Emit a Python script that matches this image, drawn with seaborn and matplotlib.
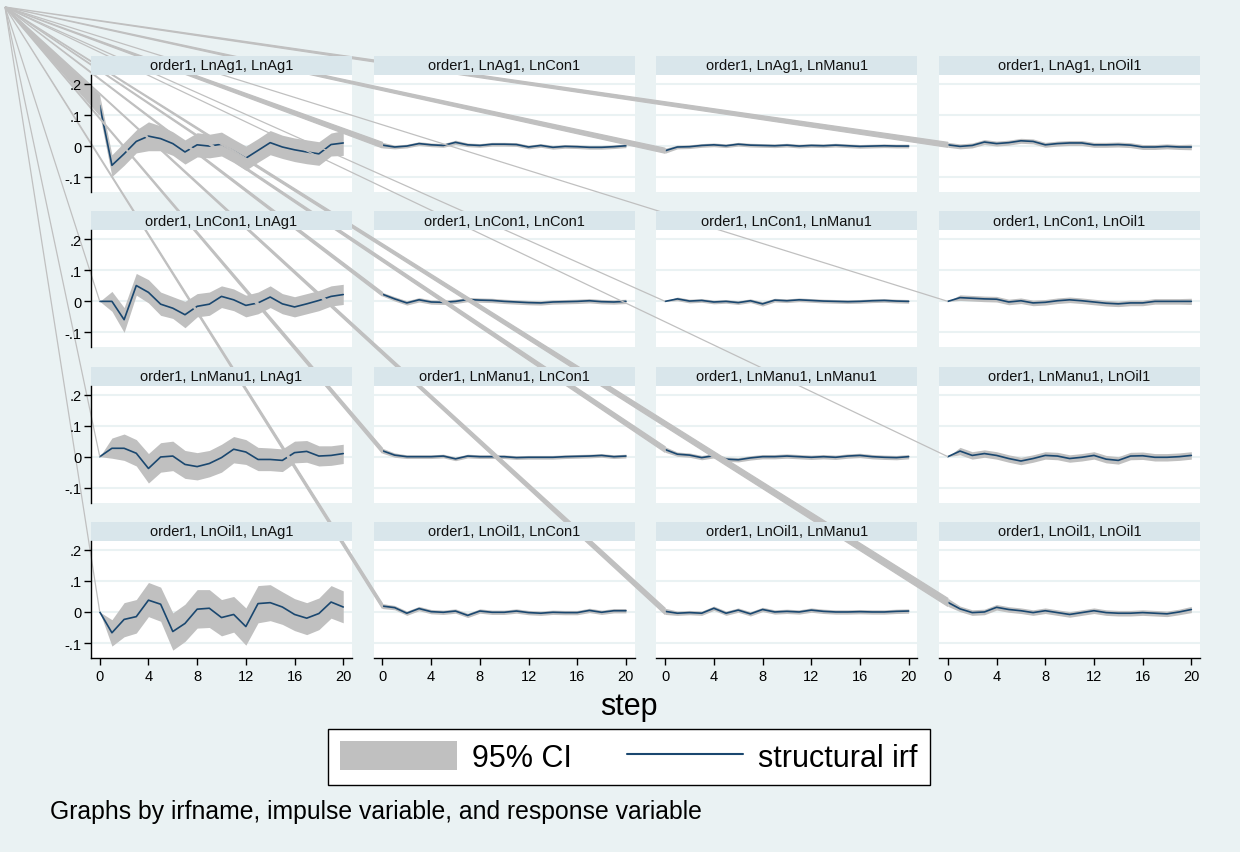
import matplotlib
matplotlib.use('Agg')
import matplotlib.pyplot as plt
import seaborn as sns
from matplotlib.patches import Polygon, Rectangle, Patch
from matplotlib.lines import Line2D

steps = list(range(21))
variables = ['LnAg1', 'LnCon1', 'LnManu1', 'LnOil1']
yticks = [-0.1, 0.0, 0.1, 0.2]
ytick_labels = ['-.1', '0', '.1', '.2']
xticks = [0, 4, 8, 12, 16, 20]

# impulse LnAg1
ag_ag_irf = [0.131, -0.062, -0.025, 0.015, 0.032, 0.024, 0.008, -0.019, 0.004, 0.0, 0.006, -0.016, -0.039, -0.014, 0.011, -0.003, -0.012, -0.019, -0.025, 0.005, 0.010]
ag_ag_lo = [0.100, -0.098, -0.062, -0.022, -0.015, -0.015, -0.030, -0.058, -0.035, -0.038, -0.032, -0.053, -0.078, -0.052, -0.028, -0.040, -0.050, -0.057, -0.062, -0.032, -0.030]
ag_ag_hi = [0.162, -0.028, 0.012, 0.052, 0.078, 0.065, 0.046, 0.020, 0.043, 0.038, 0.045, 0.022, 0.000, 0.024, 0.050, 0.035, 0.026, 0.020, 0.014, 0.042, 0.050]
ag_con_irf = [0.003, -0.003, 0.0, 0.008, 0.004, 0.002, 0.012, 0.004, 0.002, 0.006, 0.006, 0.005, -0.003, 0.002, -0.004, -0.001, -0.002, -0.004, -0.004, -0.002, 0.001]
ag_con_lo = [-0.006, -0.009, -0.006, 0.002, -0.002, -0.004, 0.005, -0.002, -0.004, 0.0, 0.0, -0.001, -0.009, -0.004, -0.010, -0.007, -0.008, -0.010, -0.010, -0.008, -0.005]
ag_con_hi = [0.012, 0.003, 0.006, 0.014, 0.010, 0.008, 0.019, 0.010, 0.008, 0.012, 0.012, 0.011, 0.003, 0.008, 0.002, 0.005, 0.004, 0.002, 0.002, 0.004, 0.007]
ag_manu_irf = [-0.015, -0.003, -0.002, 0.002, 0.004, 0.001, 0.006, 0.003, 0.002, 0.001, 0.003, 0.0, 0.002, 0.001, 0.003, 0.001, -0.001, 0.0, 0.001, 0.0, 0.0]
ag_manu_lo = [-0.023, -0.009, -0.008, -0.004, -0.002, -0.005, 0.0, -0.003, -0.004, -0.005, -0.003, -0.006, -0.004, -0.005, -0.003, -0.005, -0.007, -0.006, -0.005, -0.006, -0.006]
ag_manu_hi = [-0.007, 0.003, 0.004, 0.008, 0.010, 0.007, 0.012, 0.009, 0.008, 0.007, 0.009, 0.006, 0.008, 0.007, 0.009, 0.007, 0.005, 0.006, 0.007, 0.006, 0.006]
ag_oil_irf = [0.004, -0.001, 0.002, 0.013, 0.008, 0.011, 0.017, 0.015, 0.004, 0.008, 0.010, 0.010, 0.004, 0.004, 0.005, 0.003, -0.003, -0.003, -0.001, -0.003, -0.003]
ag_oil_lo = [-0.004, -0.009, -0.006, 0.005, 0.0, 0.003, 0.009, 0.007, -0.004, 0.0, 0.002, 0.002, -0.004, -0.004, -0.003, -0.005, -0.011, -0.011, -0.009, -0.011, -0.012]
ag_oil_hi = [0.012, 0.007, 0.010, 0.021, 0.016, 0.019, 0.025, 0.023, 0.012, 0.016, 0.018, 0.018, 0.012, 0.012, 0.013, 0.011, 0.005, 0.005, 0.007, 0.005, 0.006]

# impulse LnCon1
con_ag_irf = [0.0, 0.0, -0.059, 0.051, 0.029, -0.009, -0.022, -0.043, -0.016, -0.009, 0.016, 0.005, -0.013, -0.005, 0.014, -0.008, -0.018, -0.008, 0.003, 0.016, 0.022]
con_ag_lo = [0.0, -0.032, -0.100, 0.020, -0.005, -0.045, -0.055, -0.085, -0.050, -0.045, -0.020, -0.030, -0.050, -0.040, -0.020, -0.040, -0.050, -0.040, -0.030, -0.015, -0.010]
con_ag_hi = [0.0, 0.032, -0.020, 0.090, 0.070, 0.030, 0.015, 0.000, 0.025, 0.030, 0.050, 0.040, 0.020, 0.030, 0.050, 0.025, 0.015, 0.025, 0.035, 0.050, 0.055]
con_con_irf = [0.023, 0.008, -0.005, 0.005, -0.002, -0.003, 0.0, 0.006, 0.004, 0.003, 0.0, -0.002, -0.004, -0.005, -0.002, -0.001, 0.0, 0.002, -0.001, -0.002, 0.0]
con_con_lo = [0.017, 0.001, -0.012, -0.002, -0.009, -0.010, -0.007, -0.001, -0.003, -0.004, -0.007, -0.009, -0.011, -0.012, -0.009, -0.008, -0.007, -0.005, -0.008, -0.009, -0.007]
con_con_hi = [0.029, 0.015, 0.002, 0.012, 0.005, 0.004, 0.007, 0.013, 0.011, 0.010, 0.007, 0.005, 0.003, 0.002, 0.005, 0.006, 0.007, 0.009, 0.006, 0.005, 0.007]
con_manu_irf = [0.0, 0.008, 0.001, 0.003, -0.002, 0.0, -0.004, 0.002, -0.008, 0.004, 0.002, 0.005, 0.003, 0.001, 0.0, -0.001, 0.0, 0.002, 0.003, 0.001, 0.0]
con_manu_lo = [0.0, 0.002, -0.005, -0.003, -0.008, -0.006, -0.010, -0.004, -0.015, -0.002, -0.004, -0.001, -0.003, -0.005, -0.006, -0.007, -0.006, -0.004, -0.003, -0.005, -0.006]
con_manu_hi = [0.0, 0.014, 0.007, 0.009, 0.004, 0.006, 0.002, 0.008, -0.001, 0.010, 0.008, 0.011, 0.009, 0.007, 0.006, 0.005, 0.006, 0.008, 0.009, 0.007, 0.006]
con_oil_irf = [0.0, 0.012, 0.010, 0.008, 0.007, -0.002, 0.002, -0.005, -0.003, 0.002, 0.005, 0.002, -0.002, -0.006, -0.008, -0.005, -0.005, 0.0, 0.0, 0.0, 0.0]
con_oil_lo = [0.0, 0.003, 0.001, -0.001, -0.002, -0.011, -0.007, -0.014, -0.012, -0.007, -0.004, -0.007, -0.011, -0.015, -0.017, -0.014, -0.014, -0.009, -0.009, -0.009, -0.010]
con_oil_hi = [0.0, 0.021, 0.019, 0.017, 0.016, 0.007, 0.011, 0.004, 0.006, 0.011, 0.014, 0.011, 0.007, 0.003, 0.001, 0.004, 0.004, 0.009, 0.009, 0.009, 0.010]

# impulse LnManu1
manu_ag_irf = [0.0, 0.027, 0.027, 0.011, -0.038, -0.001, 0.002, -0.025, -0.032, -0.022, -0.003, 0.024, 0.015, -0.009, -0.009, -0.012, 0.013, 0.017, 0.002, 0.004, 0.010]
manu_ag_lo = [0.0, -0.005, -0.012, -0.030, -0.085, -0.050, -0.045, -0.070, -0.075, -0.065, -0.050, -0.020, -0.025, -0.045, -0.045, -0.048, -0.020, -0.018, -0.030, -0.028, -0.022]
manu_ag_hi = [0.0, 0.060, 0.073, 0.055, 0.010, 0.045, 0.050, 0.020, 0.013, 0.020, 0.040, 0.065, 0.055, 0.030, 0.028, 0.025, 0.050, 0.052, 0.035, 0.035, 0.040]
manu_con_irf = [0.019, 0.005, 0.0, 0.0, 0.0, 0.002, -0.007, 0.002, 0.0, 0.0, 0.0, -0.003, -0.002, -0.002, -0.002, 0.0, 0.001, 0.002, 0.004, 0.0, 0.002]
manu_con_lo = [0.011, -0.002, -0.006, -0.006, -0.006, -0.004, -0.013, -0.004, -0.006, -0.006, -0.006, -0.009, -0.008, -0.008, -0.008, -0.006, -0.005, -0.004, -0.002, -0.006, -0.004]
manu_con_hi = [0.027, 0.012, 0.006, 0.006, 0.006, 0.008, -0.001, 0.008, 0.006, 0.006, 0.006, 0.003, 0.004, 0.004, 0.004, 0.006, 0.007, 0.008, 0.010, 0.006, 0.008]
manu_manu_irf = [0.023, 0.008, 0.005, -0.003, 0.003, -0.008, -0.010, -0.004, 0.0, 0.0, 0.002, 0.0, -0.002, 0.0, -0.002, 0.002, 0.004, 0.0, -0.002, -0.003, 0.0]
manu_manu_lo = [0.014, 0.001, -0.002, -0.010, -0.004, -0.015, -0.017, -0.011, -0.007, -0.007, -0.005, -0.007, -0.009, -0.007, -0.009, -0.005, -0.003, -0.007, -0.009, -0.010, -0.007]
manu_manu_hi = [0.032, 0.015, 0.012, 0.004, 0.010, -0.001, -0.003, 0.003, 0.007, 0.007, 0.009, 0.007, 0.005, 0.007, 0.005, 0.009, 0.011, 0.007, 0.005, 0.004, 0.007]
manu_oil_irf = [0.0, 0.018, 0.004, 0.010, 0.004, -0.006, -0.014, -0.006, 0.004, 0.002, -0.006, -0.002, 0.004, -0.008, -0.012, 0.002, 0.003, -0.002, -0.002, 0.0, 0.004]
manu_oil_lo = [0.0, 0.006, -0.008, -0.002, -0.008, -0.018, -0.026, -0.018, -0.008, -0.010, -0.018, -0.014, -0.008, -0.020, -0.024, -0.010, -0.009, -0.014, -0.014, -0.012, -0.008]
manu_oil_hi = [0.0, 0.030, 0.016, 0.022, 0.016, 0.006, -0.002, 0.006, 0.016, 0.014, 0.006, 0.010, 0.016, 0.004, 0.0, 0.014, 0.015, 0.010, 0.010, 0.012, 0.016]

# impulse LnOil1
oil_ag_irf = [0.0, -0.067, -0.024, -0.015, 0.038, 0.025, -0.063, -0.037, 0.009, 0.012, -0.018, -0.008, -0.047, 0.027, 0.030, 0.016, -0.008, -0.020, -0.005, 0.032, 0.016]
oil_ag_lo = [0.0, -0.110, -0.080, -0.068, -0.015, -0.030, -0.123, -0.095, -0.052, -0.050, -0.077, -0.065, -0.107, -0.035, -0.028, -0.040, -0.060, -0.073, -0.057, -0.020, -0.035]
oil_ag_hi = [0.0, -0.025, 0.030, 0.040, 0.095, 0.080, -0.003, 0.025, 0.072, 0.072, 0.040, 0.050, 0.013, 0.085, 0.088, 0.065, 0.043, 0.030, 0.045, 0.085, 0.068]
oil_con_irf = [0.019, 0.014, -0.004, 0.011, 0.001, -0.001, 0.003, -0.011, 0.003, -0.001, -0.001, 0.003, -0.002, -0.004, -0.001, -0.002, -0.002, 0.005, -0.001, 0.004, 0.004]
oil_con_lo = [0.011, 0.007, -0.011, 0.004, -0.006, -0.008, -0.004, -0.018, -0.004, -0.008, -0.008, -0.004, -0.009, -0.011, -0.008, -0.009, -0.009, -0.002, -0.008, -0.003, -0.003]
oil_con_hi = [0.027, 0.021, 0.003, 0.018, 0.008, 0.006, 0.010, -0.004, 0.010, 0.006, 0.006, 0.010, 0.005, 0.003, 0.006, 0.005, 0.005, 0.012, 0.006, 0.011, 0.011]
oil_manu_irf = [0.002, -0.004, -0.002, -0.004, 0.012, -0.004, 0.006, -0.006, 0.008, 0.0, 0.002, 0.0, 0.006, 0.002, 0.0, 0.0, 0.001, 0.0, 0.0, 0.002, 0.003]
oil_manu_lo = [-0.008, -0.011, -0.009, -0.011, 0.005, -0.011, -0.001, -0.013, 0.001, -0.007, -0.005, -0.007, -0.001, -0.005, -0.007, -0.007, -0.006, -0.007, -0.007, -0.005, -0.004]
oil_manu_hi = [0.012, 0.003, 0.005, 0.003, 0.019, 0.003, 0.013, 0.001, 0.015, 0.007, 0.009, 0.007, 0.013, 0.009, 0.007, 0.007, 0.008, 0.007, 0.007, 0.009, 0.010]
oil_oil_irf = [0.031, 0.010, -0.002, 0.0, 0.015, 0.008, 0.004, -0.002, 0.004, -0.002, -0.008, -0.002, 0.004, -0.002, -0.004, -0.004, -0.002, -0.004, -0.006, 0.0, 0.008]
oil_oil_lo = [0.018, 0.001, -0.011, -0.009, 0.006, -0.001, -0.005, -0.011, -0.005, -0.011, -0.017, -0.011, -0.005, -0.011, -0.013, -0.013, -0.011, -0.013, -0.015, -0.009, -0.002]
oil_oil_hi = [0.044, 0.019, 0.007, 0.009, 0.024, 0.017, 0.013, 0.007, 0.013, 0.007, 0.001, 0.007, 0.013, 0.007, 0.005, 0.005, 0.007, 0.005, 0.003, 0.009, 0.018]

panels = [
    [(ag_ag_irf, ag_ag_lo, ag_ag_hi), (ag_con_irf, ag_con_lo, ag_con_hi),
     (ag_manu_irf, ag_manu_lo, ag_manu_hi), (ag_oil_irf, ag_oil_lo, ag_oil_hi)],
    [(con_ag_irf, con_ag_lo, con_ag_hi), (con_con_irf, con_con_lo, con_con_hi),
     (con_manu_irf, con_manu_lo, con_manu_hi), (con_oil_irf, con_oil_lo, con_oil_hi)],
    [(manu_ag_irf, manu_ag_lo, manu_ag_hi), (manu_con_irf, manu_con_lo, manu_con_hi),
     (manu_manu_irf, manu_manu_lo, manu_manu_hi), (manu_oil_irf, manu_oil_lo, manu_oil_hi)],
    [(oil_ag_irf, oil_ag_lo, oil_ag_hi), (oil_con_irf, oil_con_lo, oil_con_hi),
     (oil_manu_irf, oil_manu_lo, oil_manu_hi), (oil_oil_irf, oil_oil_lo, oil_oil_hi)],
]

sns.set_style('white')
plt.rcParams['font.family'] = ['Liberation Sans', 'DejaVu Sans']
plt.rcParams['text.color'] = 'black'
plt.rcParams['xtick.color'] = 'black'
plt.rcParams['ytick.color'] = 'black'

bg = '#eaf2f3'
strip_col = '#d9e6eb'
ci_grey = '#c0c0c0'
navy = '#1a476f'

W, H = 1240, 853
fig = plt.figure(figsize=(12.4, 8.53), dpi=100, facecolor=bg)
corner = (5 / W, 1 - 8 / H)
xlim = (-0.72, 20.72)
ylim = (-0.148, 0.229)

for r in range(4):
    for c in range(4):
        left = 91 + 282.7 * c
        top = 76 + 155.3 * r
        rect = [left / W, 1 - (top + 117) / H, 261 / W, 117 / H]
        ax = fig.add_axes(rect)
        irf, lo, hi = panels[r][c]
        ax.set_facecolor('white')
        for yv in yticks:
            ax.axhline(yv, color=bg, lw=1.5, zorder=0)
        ax.fill_between(steps, lo, hi, color=ci_grey, lw=0, zorder=1)
        sns.lineplot(x=steps, y=irf, ax=ax, color=navy, lw=1.2, zorder=2)
        ax.set_xlim(*xlim)
        ax.set_ylim(*ylim)
        ax.set_xlabel('')
        ax.set_ylabel('')
        ax.set_yticks([])
        for s in ax.spines.values():
            s.set_visible(False)
        if r == 3:
            ax.spines['bottom'].set_visible(True)
            ax.spines['bottom'].set_color('black')
            ax.spines['bottom'].set_linewidth(1)
            ax.set_xticks(xticks)
            ax.tick_params(axis='x', bottom=True, direction='out', length=5, width=1,
                           labelsize=10.5, pad=3, color='black', labelcolor='black')
        else:
            ax.set_xticks([])

        if c == 0:
            # y axis drawn on a transparent overlay so its labels sit on top
            ay = fig.add_axes(rect, zorder=5)
            ay.patch.set_visible(False)
            ay.set_xlim(*xlim)
            ay.set_ylim(*ylim)
            ay.set_xticks([])
            ay.set_yticks(yticks)
            ay.set_yticklabels(ytick_labels)
            for s in ay.spines.values():
                s.set_visible(False)
            ay.spines['left'].set_visible(True)
            ay.spines['left'].set_color('black')
            ay.spines['left'].set_linewidth(1)
            ay.tick_params(axis='y', left=True, direction='out', length=5, width=1,
                           labelsize=10.5, pad=2, color='black', labelcolor='black')

        # strip header
        fig.patches.append(Rectangle((left / W, 1 - top / H), 261 / W, 19 / H,
                                     transform=fig.transFigure, facecolor=strip_col,
                                     edgecolor='none', zorder=3))
        fig.text((left + 130.5) / W, 1 - (top - 9.5) / H,
                 f'order1, {variables[r]}, {variables[c]}',
                 ha='center', va='center', fontsize=10.5, color='#111111', zorder=4)

        # stray CI polygon edges running to the page corner
        to_fig = ax.transData + fig.transFigure.inverted()
        p_lo = to_fig.transform((steps[0], lo[0]))
        p_hi = to_fig.transform((steps[0], hi[0]))
        fig.patches.append(Polygon([corner, tuple(p_lo), tuple(p_hi)], closed=True,
                                   transform=fig.transFigure, facecolor=ci_grey,
                                   edgecolor=ci_grey, lw=0.9, zorder=2))

fig.text(0.507, 1 - 707 / H, 'step', ha='center', va='center', fontsize=22)

handles = [Patch(facecolor=ci_grey, edgecolor='none'),
           Line2D([0], [0], color=navy, lw=1.5)]
leg = fig.legend(handles, ['95% CI', 'structural irf'], loc='center',
                 bbox_to_anchor=(629 / W, 1 - 758 / H), ncol=2, frameon=True,
                 fancybox=False, edgecolor='black', facecolor='white', framealpha=1,
                 fontsize=22, handlelength=3.8, handleheight=1.1, columnspacing=1.8,
                 handletextpad=0.5, borderpad=0.4, labelcolor='black')
leg.get_frame().set_linewidth(1)

fig.text(50 / W, 1 - 812 / H, 'Graphs by irfname, impulse variable, and response variable',
         ha='left', va='center', fontsize=17.8)

fig.savefig('out.png', dpi=100, facecolor=bg)
